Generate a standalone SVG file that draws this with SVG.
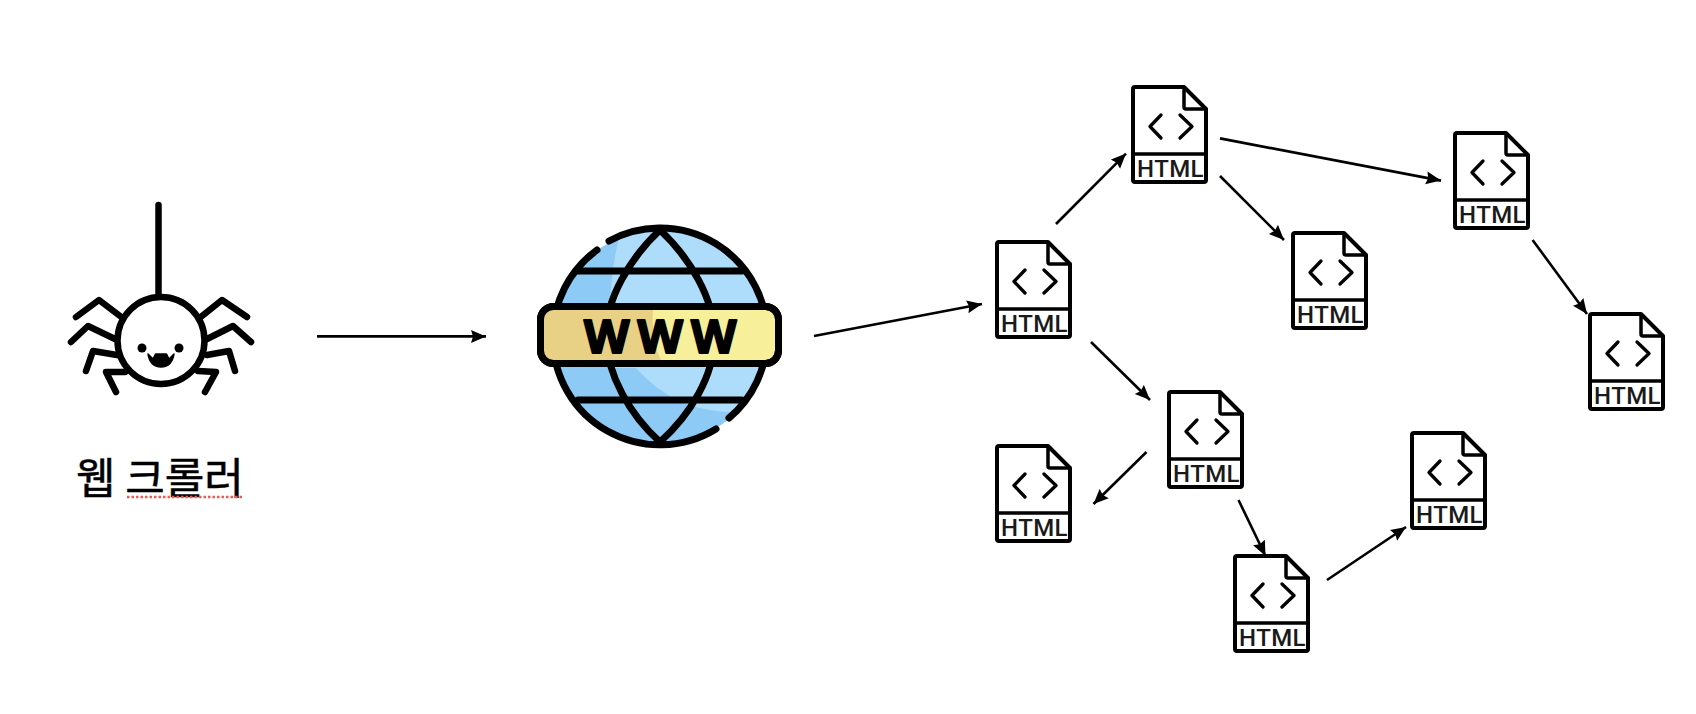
<svg xmlns="http://www.w3.org/2000/svg" xmlns:xlink="http://www.w3.org/1999/xlink" width="1696" height="714" viewBox="0 0 1696 714">
<style>
.c{stroke:#000;stroke-width:2.6;fill:none;marker-end:url(#a)}
.k{stroke:#000;fill:none;stroke-linecap:round;stroke-linejoin:round}
.t{font-family:"Roboto","Liberation Sans",sans-serif;font-size:24px;font-weight:500;fill:#1a1a1a;text-anchor:middle;letter-spacing:.4px}
</style>
<defs>
<marker id="a" markerUnits="userSpaceOnUse" markerWidth="16" markerHeight="14" refX="15" refY="7" orient="auto"><path d="M0 0.500L15 7L0 13.500L2 7Z" fill="#000"/></marker>
<g id="doc">
<path class="k" stroke-width="4" d="M3 -1H52L74 21V92Q74 94 72 94H3Q1 94 1 92V1Q1 -1 3 -1Z" style="fill:#fff"/>
<path class="k" stroke-width="3.5" d="M52 0V19Q52 21 54 21H74M1 66H74"/>
<path class="k" stroke-width="3.3" d="M29 27L18 38.500L29 50M48 27L60 38.500L48 50"/>
</g>
<clipPath id="gc"><circle cx="660" cy="337" r="107"/></clipPath>
</defs>
<rect width="1696" height="714" fill="#fff"/>
<g id="connectors">
<path class="c" d="M317 336.400H486"/>
<path class="c" d="M814 336L982 304"/>
<path class="c" d="M1056 224L1126 153.600"/>
<path class="c" d="M1220 138.400L1441 180.600"/>
<path class="c" d="M1220 176L1284 240"/>
<path class="c" d="M1532.600 240L1587 314"/>
<path class="c" d="M1091 342L1150 400"/>
<path class="c" d="M1146.500 452L1093.500 504"/>
<path class="c" d="M1238.500 500L1265.500 556"/>
<path class="c" d="M1327 580L1406 527"/>
</g>
<g id="spider">
<path class="k" stroke-width="6.500" d="M158.500 205V295"/>
<path class="k" stroke-width="6.500" d="M120 316L99 300L76 317M115 339L88 326L71 342M117 355L93 351L86 371M125 372L106 372L116 392M202 316L222 300L247 317M207 339L233 326L251 342M207 355L229 351L235 371M198 371L216 372L205 392"/>
<circle cx="161" cy="340.500" r="43.500" fill="#fff" stroke="#000" stroke-width="6.500"/>
<circle cx="142" cy="348" r="4.500" fill="#000"/><circle cx="179" cy="348" r="4.500" fill="#000"/>
<path d="M148 354L153 359L155.500 354H166.500L169 359L174 354Q172 367 161 367Q150 367 148 354Z" fill="#000" stroke="#000" stroke-width="1.500" stroke-linejoin="round"/>
<text x="160" y="494" font-family="'Noto Sans CJK KR','Noto Sans CJK SC',sans-serif" font-size="43" font-weight="400" stroke="#000" stroke-width=".5" text-anchor="middle" fill="#000">웹 크롤러</text>
<path d="M127 497H243" stroke="#ee5a50" stroke-width="2.500" stroke-dasharray="2.500 2" fill="none"/>
</g>
<g id="www">
<circle cx="660" cy="337" r="107" fill="#aedcfb"/>
<g clip-path="url(#gc)">
<path d="M553 230H621Q612 262 610 303V368H636Q665 400 700 408Q730 415 770 412V450H553Z" fill="#8dcbf6"/>
</g>
<path class="k" stroke-width="7" d="M609 241A107 107 0 0 1 767 337A107 107 0 0 1 729 418M716 429A107 107 0 0 1 553 337A107 107 0 0 1 597 250"/>
<path class="k" stroke-width="7" d="M660 230C630 258 605 300 606 337C607 375 630 415 660 442C690 415 715 375 714 337C715 300 690 258 660 230ZM578 271H742M578 400H742"/>
<rect x="540.500" y="306.500" width="238" height="57" rx="13" fill="#f8ef9a" stroke="#000" stroke-width="7"/>
<path d="M544 310H653Q651 340 661 360H544Z" fill="#e8d184"/>
<rect x="540.500" y="306.500" width="238" height="57" rx="13" fill="none" stroke="#000" stroke-width="7"/>
<text x="584" y="352.500" font-family="'Open Sans','Liberation Sans',sans-serif" font-size="47" font-weight="700" fill="#000" stroke="#000" stroke-width="2" stroke-linejoin="round" letter-spacing="8">WWW</text>
</g>
<g id="html1"><use xlink:href="#doc" href="#doc" x="996" y="243"/><text class="t" x="1034.500" y="332">HTML</text></g>
<g id="html2"><use xlink:href="#doc" href="#doc" x="1132" y="88"/><text class="t" x="1170.500" y="177">HTML</text></g>
<g id="html3"><use xlink:href="#doc" href="#doc" x="1454" y="134"/><text class="t" x="1492.500" y="223">HTML</text></g>
<g id="html4"><use xlink:href="#doc" href="#doc" x="1292" y="234"/><text class="t" x="1330.500" y="323">HTML</text></g>
<g id="html5"><use xlink:href="#doc" href="#doc" x="1589" y="315"/><text class="t" x="1627.500" y="404">HTML</text></g>
<g id="html6"><use xlink:href="#doc" href="#doc" x="1168" y="393"/><text class="t" x="1206.500" y="482">HTML</text></g>
<g id="html7"><use xlink:href="#doc" href="#doc" x="996" y="447"/><text class="t" x="1034.500" y="536">HTML</text></g>
<g id="html8"><use xlink:href="#doc" href="#doc" x="1411" y="434"/><text class="t" x="1449.500" y="523">HTML</text></g>
<g id="html9"><use xlink:href="#doc" href="#doc" x="1234" y="557"/><text class="t" x="1272.500" y="646">HTML</text></g>
</svg>
